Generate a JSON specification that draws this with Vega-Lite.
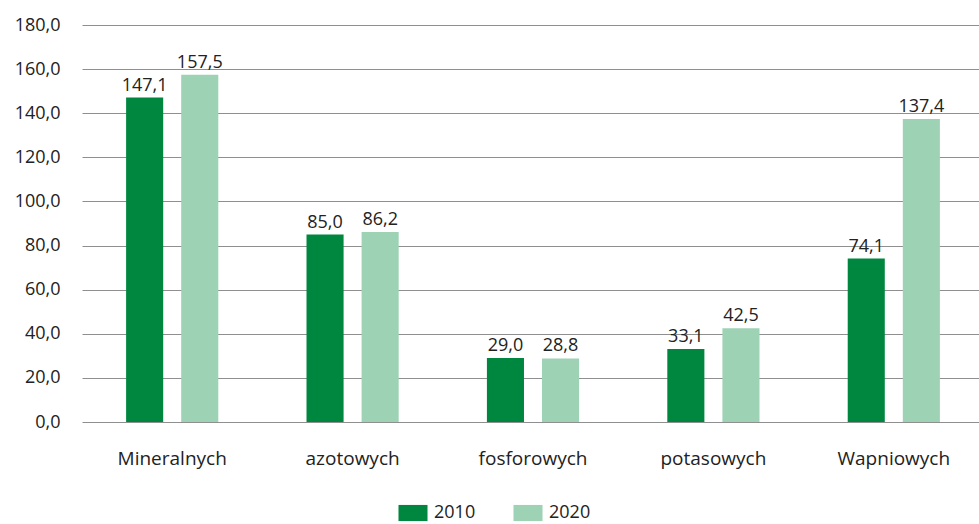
{
  "$schema": "https://vega.github.io/schema/vega-lite/v6.json",
  "autosize": {"type": "none"},
  "padding": {"left": 82, "top": 25, "right": 0, "bottom": 102},
  "width": 902,
  "height": 397,
  "background": "white",
  "config": {
    "locale": {"number": {"decimal": ",", "thousands": " ", "grouping": [3], "currency": ["", " zł"]}},
    "font": "Open Sans",
    "view": {"stroke": null}
  },
  "data": {
    "values": [
      {"kategoria": "Mineralnych", "rok": "2010", "wartosc": 147.1},
      {"kategoria": "Mineralnych", "rok": "2020", "wartosc": 157.5},
      {"kategoria": "azotowych", "rok": "2010", "wartosc": 85.0},
      {"kategoria": "azotowych", "rok": "2020", "wartosc": 86.2},
      {"kategoria": "fosforowych", "rok": "2010", "wartosc": 29.0},
      {"kategoria": "fosforowych", "rok": "2020", "wartosc": 28.8},
      {"kategoria": "potasowych", "rok": "2010", "wartosc": 33.1},
      {"kategoria": "potasowych", "rok": "2020", "wartosc": 42.5},
      {"kategoria": "Wapniowych", "rok": "2010", "wartosc": 74.1},
      {"kategoria": "Wapniowych", "rok": "2020", "wartosc": 137.4}
    ]
  },
  "encoding": {
    "x": {
      "field": "kategoria", "type": "nominal", "sort": null,
      "scale": {"paddingInner": 0.489, "paddingOuter": 0.2445},
      "axis": {
        "title": null, "labelAngle": 0, "labelFontSize": 19, "labelColor": "#222",
        "labelPadding": 27, "ticks": false, "domain": false
      }
    },
    "xOffset": {"field": "rok", "type": "nominal", "scale": {"paddingInner": 0.327, "paddingOuter": 0}},
    "y": {
      "field": "wartosc", "type": "quantitative",
      "scale": {"domain": [0, 180], "nice": false},
      "axis": {
        "title": null, "values": [0, 20, 40, 60, 80, 100, 120, 140, 160, 180],
        "format": ".1f", "labelFontSize": 18, "labelColor": "#222", "labelPadding": 22,
        "ticks": false, "domain": false, "gridColor": "#8f8f8f", "gridWidth": 1.2
      }
    }
  },
  "layer": [
    {
      "mark": {"type": "bar"},
      "encoding": {
        "color": {
          "field": "rok", "type": "nominal",
          "scale": {"domain": ["2010", "2020"], "range": ["#00873F", "#9DD2B4"]},
          "legend": {
            "title": null, "orient": "none", "direction": "horizontal",
            "legendX": 322, "legendY": 479,
            "symbolType": "M-1.8,-1H1.8V1H-1.8Z", "symbolSize": 260,
            "symbolStrokeWidth": 0, "labelFontSize": 18, "labelColor": "#222",
            "columnPadding": 37, "labelOffset": 12
          }
        }
      }
    },
    {
      "mark": {"type": "text", "baseline": "bottom", "dy": -3, "fontSize": 18, "color": "#222"},
      "encoding": {
        "text": {"field": "wartosc", "type": "quantitative", "format": ".1f"}
      }
    }
  ]
}
